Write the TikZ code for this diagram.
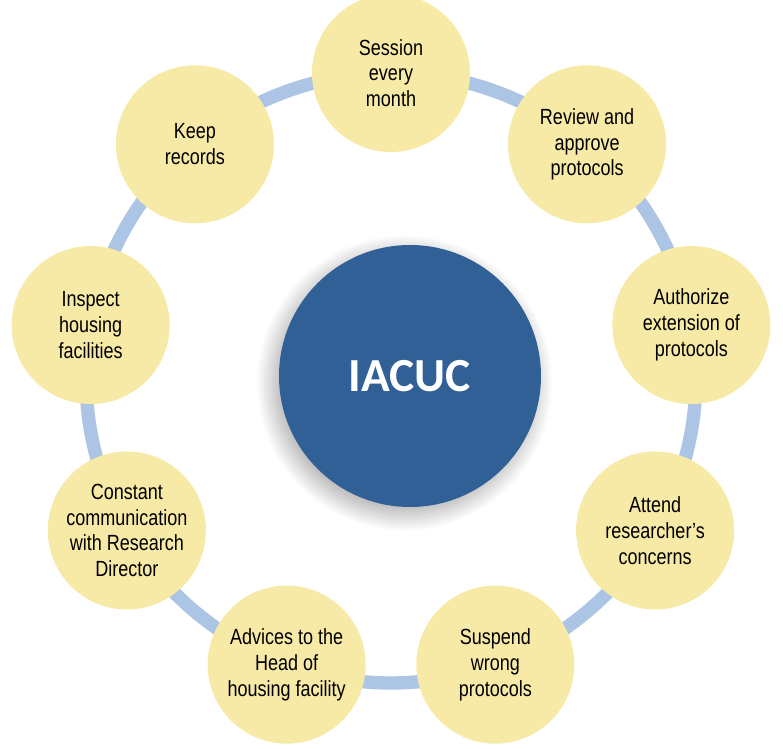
\documentclass[tikz,border=0pt]{standalone}
\usepackage{fontspec}
\setmainfont{Liberation Sans}[FakeStretch=0.82]
\newfontfamily\hubfont{Carlito}
\usetikzlibrary{shadows.blur}

\definecolor{ringblue}{RGB}{172,197,229}
\definecolor{satyellow}{RGB}{247,233,166}
\definecolor{hubblue}{RGB}{49,96,150}

\begin{document}
\begin{tikzpicture}[
    sat/.style={circle, fill=satyellow, minimum size=3.16cm, inner sep=0pt,
      align=center, font=\fontsize{12.5}{14.7}\selectfont},
    hub/.style={circle, fill=hubblue, minimum size=5.24cm, text=white,
      font=\hubfont\bfseries\fontsize{27}{30}\selectfont,
      blur shadow={shadow xshift=-3pt, shadow yshift=-4pt,
        shadow blur radius=10pt, shadow blur steps=40, shadow opacity=35}},
    ring/.style={draw=ringblue, line width=7.6pt}]
    \useasboundingbox (0,0) rectangle (15.66,14.98);
    % Ring centre and radius
    \def\rr{6.1}
    \coordinate (rc) at (7.82,7.42);

    % Points on the ring, one every 40 degrees from the top
    \foreach \i in {1,...,9} {
      \pgfmathsetmacro{\a}{130-40*\i}
      \coordinate (p\i) at ($(rc)+(\a:\rr)$);
    }

    % Ring arcs from point to point
    \foreach \i in {1,...,9} {
      \pgfmathsetmacro{\a}{130-40*\i}
      \draw[ring] (p\i) arc[start angle=\a, delta angle=-40, radius=\rr];
    }

    % Centre circle
    \node[hub] (iacuc) at (8.2,7.46) {IACUC};

    % Tasks around the ring
    \foreach \i/\txt in {1/{Session\\every\\month},
        2/{Review and\\approve\\protocols},
        3/{Authorize\\extension of\\protocols},
        4/{Attend\\researcher's\\concerns},
        5/{Suspend\\wrong\\protocols},
        6/{Advices to the\\Head of\\housing facility},
        7/{Constant\\communication\\with Research\\Director},
        8/{Inspect\\housing\\facilities},
        9/{Keep\\records}} {
      \node[sat] (s\i) at (p\i) {\txt};
    }
\end{tikzpicture}
\end{document}
